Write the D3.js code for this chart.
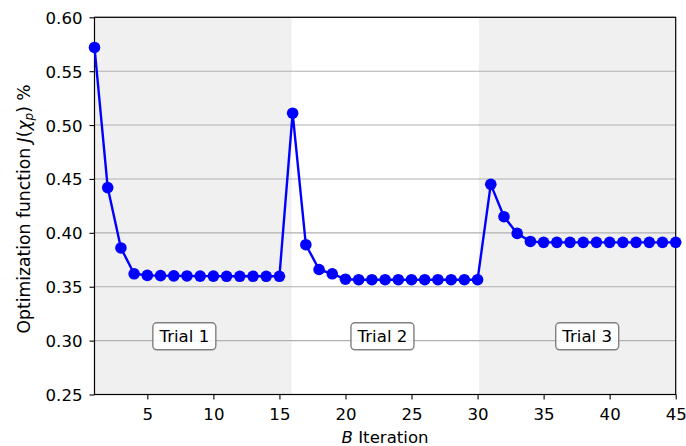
<!DOCTYPE html>
<html>
<head>
<meta charset="utf-8">
<script src="https://cdn.jsdelivr.net/npm/d3@7"></script>
<style>
  html, body { margin: 0; padding: 0; background: #fff; }
  svg { display: block; font-family: "DejaVu Sans", sans-serif; }
</style>
</head>
<body>
<svg id="chart" width="686" height="446"></svg>
<script>
// Optimization function value per iteration, three consecutive trials
const iterations = d3.range(1, 46);
const trial1 = [0.572, 0.442, 0.386, 0.362, 0.3605, 0.3603, 0.3601, 0.3600, 0.3598, 0.3598, 0.3597, 0.3597, 0.3597, 0.3597, 0.3597];
const trial2 = [0.511, 0.389, 0.366, 0.362, 0.357, 0.3565, 0.3565, 0.3565, 0.3565, 0.3565, 0.3565, 0.3565, 0.3565, 0.3565, 0.3565];
const trial3 = [0.445, 0.415, 0.3995, 0.392, 0.3912, 0.3912, 0.3912, 0.3912, 0.3912, 0.3912, 0.3912, 0.3912, 0.3912, 0.3912, 0.3912];
const values = trial1.concat(trial2, trial3);

const trialNames = ["Trial 1", "Trial 2", "Trial 3"];
const trialLabelX = [7.8, 22.8, 38.3];
const trialLabelY = 0.304;
// shaded spans marking trials 1 and 3
const shadedSpans = [[1, 15.92], [30.1, 45]];

const xTicks = [5, 10, 15, 20, 25, 30, 35, 40, 45];
const yTicks = [0.25, 0.30, 0.35, 0.40, 0.45, 0.50, 0.55, 0.60];

const svg = d3.select("#chart");
const plotLeft = 94.5, plotRight = 675.7, plotTop = 17.3, plotBottom = 394.5;

const x = d3.scaleLinear().domain([1, 45]).range([plotLeft, plotRight]);
const y = d3.scaleLinear().domain([0.25, 0.60]).range([plotBottom, plotTop]);

// shaded background spans
svg.append("g").selectAll("rect").data(shadedSpans).join("rect")
  .attr("x", d => x(d[0]))
  .attr("y", plotTop)
  .attr("width", d => x(d[1]) - x(d[0]))
  .attr("height", plotBottom - plotTop)
  .attr("fill", "#f0f0f0");

// horizontal grid
svg.append("g").selectAll("line").data(yTicks).join("line")
  .attr("x1", plotLeft).attr("x2", plotRight)
  .attr("y1", d => y(d)).attr("y2", d => y(d))
  .attr("stroke", "#b0b0b0").attr("stroke-width", 1.1);

// axes
const fontSize = 16.6;
const xAxis = svg.append("g")
  .attr("transform", `translate(0,${plotBottom})`)
  .call(d3.axisBottom(x).tickValues(xTicks).tickSize(5).tickPadding(4).tickFormat(d3.format("d")));
const yAxis = svg.append("g")
  .attr("transform", `translate(${plotLeft},0)`)
  .call(d3.axisLeft(y).tickValues(yTicks).tickSize(5).tickPadding(7).tickFormat(d3.format(".2f")));
[xAxis, yAxis].forEach(g => {
  g.select(".domain").remove();
  g.selectAll(".tick line").attr("stroke", "#000").attr("stroke-width", 1.1);
  g.selectAll(".tick text").attr("fill", "#000")
    .style("font-family", "DejaVu Sans").style("font-size", fontSize + "px");
});
xAxis.selectAll(".tick text").attr("dy", null).attr("y", 25.5);
yAxis.selectAll(".tick text").attr("dy", "0.36em");

// frame
svg.append("rect")
  .attr("x", plotLeft).attr("y", plotTop)
  .attr("width", plotRight - plotLeft).attr("height", plotBottom - plotTop)
  .attr("fill", "none").attr("stroke", "#000").attr("stroke-width", 1.2);

// series line and markers
const line = d3.line().x((d, i) => x(iterations[i])).y(d => y(d));
svg.append("path").datum(values)
  .attr("d", line)
  .attr("fill", "none").attr("stroke", "#0000ff").attr("stroke-width", 2.4)
  .attr("stroke-linejoin", "round");
svg.append("g").selectAll("circle").data(values).join("circle")
  .attr("cx", (d, i) => x(iterations[i]))
  .attr("cy", d => y(d))
  .attr("r", 5.8)
  .attr("fill", "#0000ff");

// trial labels in rounded boxes
const labels = svg.append("g").selectAll("g").data(trialNames).join("g")
  .attr("transform", (d, i) => `translate(${x(trialLabelX[i])},${y(trialLabelY)})`);
labels.append("rect")
  .attr("x", -31.5).attr("y", -13.5)
  .attr("width", 63).attr("height", 27)
  .attr("rx", 4).attr("ry", 4)
  .attr("fill", "#ffffff").attr("fill-opacity", 0.85)
  .attr("stroke", "#808080").attr("stroke-width", 1.4);
labels.append("text")
  .attr("text-anchor", "middle")
  .attr("dy", "0.36em")
  .style("font-size", fontSize + "px")
  .attr("fill", "#000")
  .text(d => d);

// axis titles
const xTitle = svg.append("text")
  .attr("x", (plotLeft + plotRight) / 2)
  .attr("y", 443)
  .attr("text-anchor", "middle")
  .style("font-size", fontSize + "px");
xTitle.append("tspan").style("font-style", "italic").text("B");
xTitle.append("tspan").text(" Iteration");

const yTitle = svg.append("text")
  .attr("transform", `translate(30,${(plotTop + plotBottom) / 2 + 3}) rotate(-90)`)
  .attr("text-anchor", "middle")
  .style("font-size", "17.2px");
yTitle.append("tspan").text("Optimization function ");
yTitle.append("tspan").style("font-style", "italic").text("J");
yTitle.append("tspan").text("(");
yTitle.append("tspan").style("font-style", "italic").text("χ");
yTitle.append("tspan").style("font-style", "italic").style("font-size", "12px").attr("dy", 3).text("p");
yTitle.append("tspan").attr("dy", -3).text(")");
yTitle.append("tspan").text(" %");
</script>
</body>
</html>
